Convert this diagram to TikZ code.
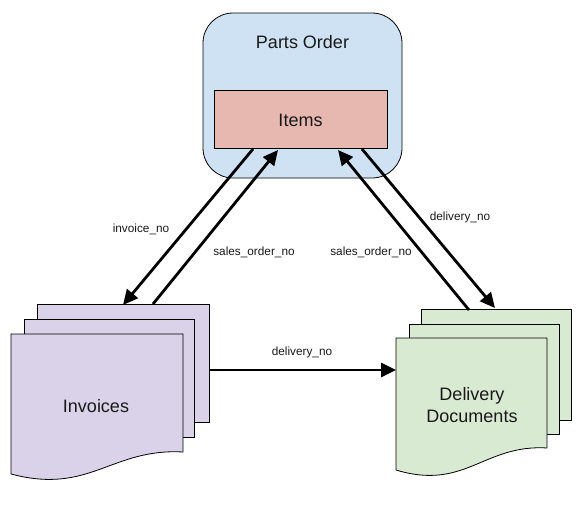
\documentclass[tikz,border=0pt]{standalone}
\usepackage{fontspec}
\setmainfont{Liberation Sans}
\usetikzlibrary{arrows.meta}
\definecolor{pblue}{HTML}{CFE2F3}
\definecolor{pred}{HTML}{E6B8AF}
\definecolor{ppurple}{HTML}{D9D2E9}
\definecolor{pgreen}{HTML}{D9EAD3}
\tikzset{
  shapeline/.style={draw=black, line width=0.8pt},
  conn/.style={line width=2.8pt, -{Triangle[length=15pt,width=14pt]}},
  lbl/.style={font=\fontsize{11.8}{13}\selectfont, text=black!90, inner sep=0pt},
  big/.style={font=\fontsize{18}{22.5}\selectfont, text=black!90, inner sep=0pt, align=center},
}
\begin{document}
\begin{tikzpicture}[x=1pt,y=-1pt]
\useasboundingbox (0,0) rectangle (587,504);
% Parts Order
\draw[shapeline, fill=pblue, rounded corners=30pt] (203,13) rectangle (402,178);
\node[big] (po) at (302.5,42) {Parts Order};
\draw[shapeline, fill=pred] (214,90) rectangle (387,148);
\node[big] (items) at (300.5,120) {Items};
% Invoices stack
\draw[shapeline, fill=ppurple] (37,304) rectangle (209,422);
\draw[shapeline, fill=ppurple] (24,319) rectangle (194,437);
\draw[shapeline, fill=ppurple] (11,334) -- (183,334) -- (183,452)
   .. controls (111,448) and (90,495) .. (11,474) -- cycle;
\node[big] (inv) at (96,406) {Invoices};
% Delivery stack
\draw[shapeline, fill=pgreen] (421,309) rectangle (571,420);
\draw[shapeline, fill=pgreen] (409,324) rectangle (559,434);
\draw[shapeline, fill=pgreen] (396,338) -- (547,338) -- (547,448)
   .. controls (484,444) and (465,491) .. (396,470) -- cycle;
\node[big] (del) at (472,405) {Delivery\\Documents};
% connector end points
\coordinate (itA) at (253,149);
\coordinate (itB) at (278,150);
\coordinate (itC) at (338,150);
\coordinate (itD) at (362,149);
\coordinate (invA) at (123,305);
\coordinate (invB) at (153,304);
\coordinate (invR) at (209,370);
\coordinate (delA) at (469,310);
\coordinate (delB) at (495,308);
\coordinate (delL) at (396,370);
% connectors
\draw[conn] (itA) -- (invA);
\draw[conn] (invB) -- (itB);
\draw[conn] (delA) -- (itC);
\draw[conn] (itD) -- (delB);
\draw[conn] (invR) -- (delL);
% labels
\node[lbl] (l1) at (141,229) {invoice\_no};
\node[lbl] (l2) at (254,252) {sales\_order\_no};
\node[lbl] (l3) at (371,252) {sales\_order\_no};
\node[lbl] (l4) at (460,217) {delivery\_no};
\node[lbl] (l5) at (302,352) {delivery\_no};
\end{tikzpicture}
\end{document}
